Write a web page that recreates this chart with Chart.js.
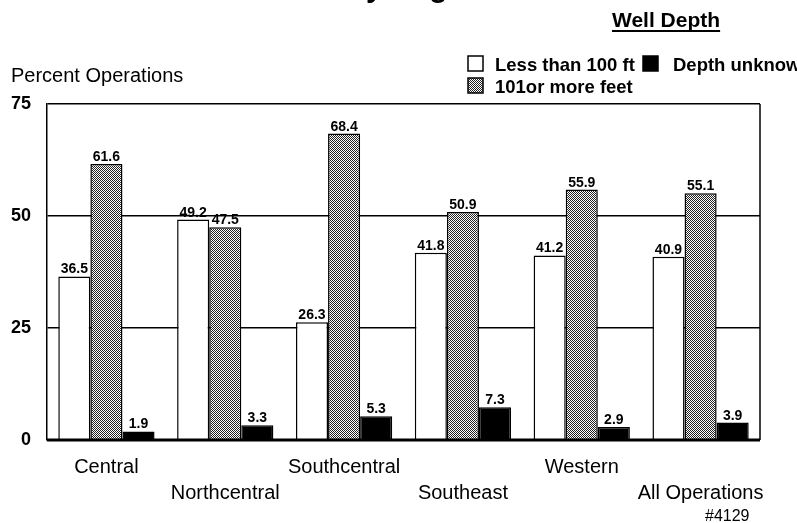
<!DOCTYPE html>
<html>
<head>
<meta charset="utf-8">
<script src="https://cdn.jsdelivr.net/npm/chart.js@4.4.1/dist/chart.umd.min.js"></script>
<style>
  html, body { margin: 0; padding: 0; background: #fff; }
  #wrap { width: 797px; height: 523px; position: relative; }
</style>
</head>
<body>
<div id="wrap"><canvas id="barChart" width="797" height="523"></canvas></div>
<script>
// chart data
const regions = ['Central', 'Northcentral', 'Southcentral', 'Southeast', 'Western', 'All Operations'];
const lessThan100 = [36.5, 49.2, 26.3, 41.8, 41.2, 40.9];
const over101 = [61.6, 47.5, 68.4, 50.9, 55.9, 55.1];
const unknownDepth = [1.9, 3.3, 5.3, 7.3, 2.9, 3.9];
const yTicks = [0, 25, 50, 75];

const FONT = "'Liberation Sans', Arial, sans-serif";

// stipple fill for the "101 or more" bars
function makeStipple() {
  const c = document.createElement('canvas');
  c.width = 4; c.height = 4;
  const g = c.getContext('2d');
  g.fillStyle = '#fff';
  g.fillRect(0, 0, 4, 4);
  g.fillStyle = '#222';
  for (let y = 0; y < 4; y++) {
    for (let x = 0; x < 4; x++) {
      if ((x + y) % 2 === 0) g.fillRect(x, y, 1, 1);
    }
  }
  return g.createPattern(c, 'repeat');
}
const stipple = makeStipple();

const decorations = {
  id: 'decorations',
  afterDatasetsDraw(chart) {
    const ctx = chart.ctx;
    const area = chart.chartArea;
    ctx.save();

    // value labels above bars
    ctx.fillStyle = '#000';
    ctx.font = 'bold 14px ' + FONT;
    ctx.textAlign = 'center';
    ctx.textBaseline = 'alphabetic';
    chart.data.datasets.forEach((ds, di) => {
      const meta = chart.getDatasetMeta(di);
      meta.data.forEach((bar, i) => {
        ctx.fillText(ds.data[i].toFixed(1), bar.x, bar.y - 3);
      });
    });

    // frame: right border and heavy baseline
    ctx.strokeStyle = '#000';
    ctx.lineWidth = 1.5;
    ctx.beginPath();
    ctx.moveTo(area.right, area.top);
    ctx.lineTo(area.right, area.bottom);
    ctx.stroke();
    ctx.lineWidth = 3;
    ctx.beginPath();
    ctx.moveTo(area.left, area.bottom);
    ctx.lineTo(area.right, area.bottom);
    ctx.stroke();
    ctx.restore();
  },
  afterDraw(chart) {
    const ctx = chart.ctx;
    ctx.save();
    ctx.fillStyle = '#000';
    ctx.textBaseline = 'alphabetic';

    // title, mostly cropped off the top of the page
    ctx.font = 'bold 30px ' + FONT;
    ctx.textAlign = 'left';
    const title = 'Wells by Region';
    const tx = 366 - ctx.measureText('Wells b').width;
    ctx.fillText(title, tx, -3);

    // y-axis title
    ctx.font = '20px ' + FONT;
    ctx.fillText('Percent Operations', 11, 82);

    // legend heading
    ctx.font = 'bold 21px ' + FONT;
    ctx.fillText('Well Depth', 612, 27);
    const w = ctx.measureText('Well Depth').width;
    ctx.fillRect(612, 30, w, 2);

    // legend entries
    const items = [
      { x: 468, y: 56, fill: '#fff', text: 'Less than 100 ft' },
      { x: 643, y: 56, fill: '#000', text: 'Depth unknow' },
      { x: 468, y: 78, fill: stipple, text: '101or more feet' }
    ];
    ctx.font = 'bold 18.5px ' + FONT;
    items.forEach(it => {
      ctx.fillStyle = it.fill;
      ctx.fillRect(it.x, it.y, 15, 15);
      ctx.strokeStyle = '#000';
      ctx.lineWidth = 1.5;
      ctx.strokeRect(it.x, it.y, 15, 15);
      ctx.fillStyle = '#000';
      ctx.fillText(it.text, it.x + (it.fill === '#000' ? 30 : 27), it.y + 15);
    });

    // staggered category labels
    const xs = chart.scales.x;
    ctx.font = '20px ' + FONT;
    ctx.textAlign = 'center';
    regions.forEach((name, i) => {
      const px = xs.getPixelForValue(i);
      const py = i % 2 === 0 ? 473 : 499;
      ctx.fillText(name, px, py);
    });

    ctx.font = '16px ' + FONT;
    ctx.textAlign = 'left';
    ctx.fillText('#4129', 705, 521);
    ctx.restore();
  }
};

const barCtx = document.getElementById('barChart').getContext('2d');
new Chart(barCtx, {
  type: 'bar',
  data: {
    labels: regions,
    datasets: [
      {
        label: 'Less than 100 ft',
        data: lessThan100,
        backgroundColor: '#fff',
        borderColor: '#000',
        borderWidth: 1.5
      },
      {
        label: '101or more feet',
        data: over101,
        backgroundColor: stipple,
        borderColor: '#000',
        borderWidth: 1.5
      },
      {
        label: 'Depth unknow',
        data: unknownDepth,
        backgroundColor: '#000',
        borderColor: '#000',
        borderWidth: 1.5
      }
    ]
  },
  options: {
    responsive: false,
    animation: false,
    devicePixelRatio: 1,
    categoryPercentage: 0.81,
    barPercentage: 1.0,
    layout: { padding: { top: 104, right: 37, bottom: 0, left: 0 } },
    plugins: {
      legend: { display: false },
      tooltip: { enabled: false }
    },
    scales: {
      x: {
        grid: { display: false, drawTicks: false },
        border: { display: false },
        ticks: { display: false },
        afterFit(scale) { scale.height = 83; }
      },
      y: {
        min: 0,
        max: 75,
        afterBuildTicks(scale) {
          scale.ticks = yTicks.map(v => ({ value: v }));
        },
        afterFit(scale) { scale.width = 47; },
        grid: { color: '#000', lineWidth: 1.5, drawTicks: false },
        border: { display: true, color: '#000', width: 1.5 },
        ticks: {
          color: '#000',
          padding: 16,
          font: { family: FONT, size: 18, weight: 'bold' }
        }
      }
    }
  },
  plugins: [decorations]
});
</script>
</body>
</html>
